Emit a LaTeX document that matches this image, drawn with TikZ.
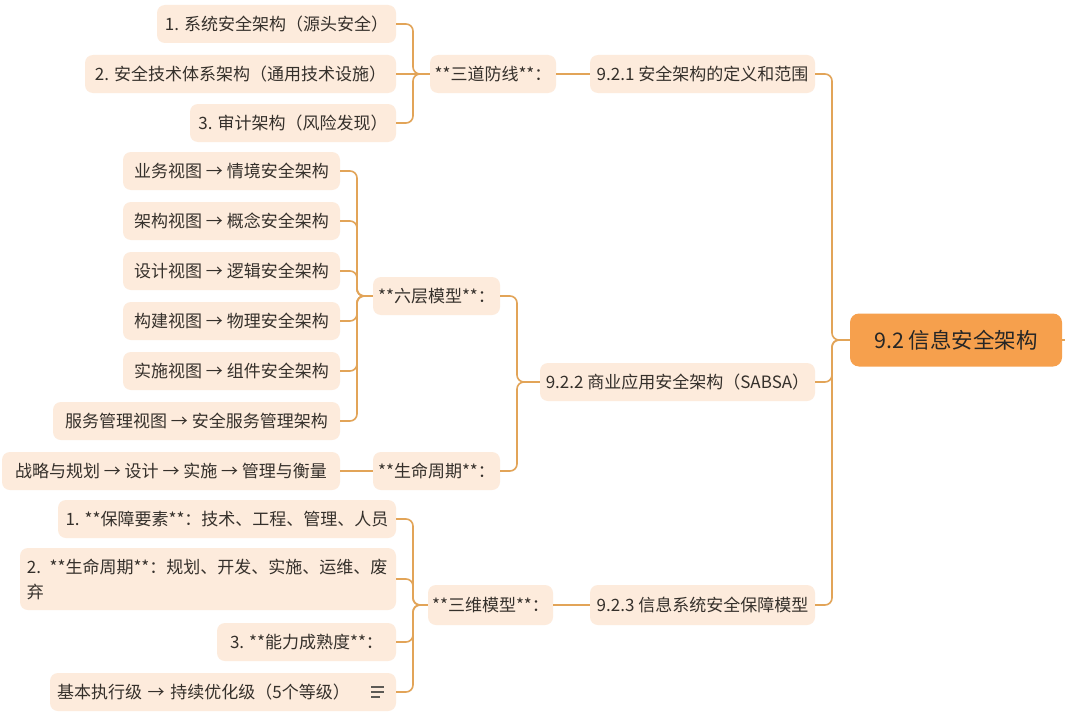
\documentclass[tikz,border=0pt]{standalone}
\usepackage{fontspec}
\setmainfont{Noto Sans CJK SC}
\definecolor{boxfill}{HTML}{FDEBDC}
\definecolor{rootfill}{HTML}{F6A04D}
\definecolor{linec}{HTML}{E2A458}
\definecolor{txt}{HTML}{35302B}
\tikzset{
  box/.style={fill=boxfill, rounded corners=8pt, minimum height=38pt, inner sep=0pt, text=txt, font=\fontsize{17}{21}\selectfont},
  rootbox/.style={fill=rootfill, rounded corners=9pt, minimum height=53pt, minimum width=212pt, inner sep=0pt, text=black!85, font=\fontsize{21.5}{25}\selectfont},
  conn/.style={draw=linec, line width=1.6pt, rounded corners=7pt},
}
\begin{document}
\begin{tikzpicture}[x=1pt,y=-1pt]
\useasboundingbox[fill=white] (0,0) rectangle (1065,717);

% root
\node[rootbox] (root) at (956,340) {9.2 信息安全架构};
\coordinate (stub) at (1065,340);

% level 1
\node[box, minimum width=225pt] (n1) at (702.5,74) {9.2.1 安全架构的定义和范围};
\node[box, minimum width=275pt] (n2) at (677.5,382) {9.2.2 商业应用安全架构（SABSA）};
\node[box, minimum width=225pt, minimum height=40pt] (n3) at (702.5,605) {9.2.3 信息系统安全保障模型};

% level 2
\node[box, minimum width=126pt] (a) at (493,74) {**三道防线**：};
\node[box, minimum width=127pt] (b) at (436.5,296) {**六层模型**：};
\node[box, minimum width=127pt] (c) at (436.5,471) {**生命周期**：};
\node[box, minimum width=125pt, minimum height=40pt] (d) at (490.5,605) {**三维模型**：};

% level 3 : 三道防线
\node[box, minimum width=239pt] (a1) at (276.5,24) {1. 系统安全架构（源头安全）};
\node[box, minimum width=311pt] (a2) at (240.5,74) {2. 安全技术体系架构（通用技术设施）};
\node[box, minimum width=206pt] (a3) at (293,123) {3. 审计架构（风险发现）};

% level 3 : 六层模型
\node[box, minimum width=217pt] (b1) at (231.5,171) {业务视图 → 情境安全架构};
\node[box, minimum width=217pt] (b2) at (231.5,221) {架构视图 → 概念安全架构};
\node[box, minimum width=217pt] (b3) at (231.5,271) {设计视图 → 逻辑安全架构};
\node[box, minimum width=217pt] (b4) at (231.5,321) {构建视图 → 物理安全架构};
\node[box, minimum width=217pt] (b5) at (231.5,371) {实施视图 → 组件安全架构};
\node[box, minimum width=287pt] (b6) at (196.5,421) {服务管理视图 → 安全服务管理架构};

% level 3 : 生命周期
\node[box, minimum width=338pt] (c1) at (171,471) {战略与规划 → 设计 → 实施 → 管理与衡量};

% level 3 : 三维模型
\node[box, minimum width=338pt] (d1) at (227,519) {1. **保障要素**：技术、工程、管理、人员};
\node[box, minimum width=376pt, minimum height=62pt, text width=362pt, align=left, font=\fontsize{17}{25}\selectfont] (d2) at (208,579) {2. **生命周期**：规划、开发、实施、运维、废\\弃};
\node[box, minimum width=179pt] (d3) at (306.5,642) {3. **能力成熟度**：};
\node[box, minimum width=346pt, text width=332pt, align=left] (d4) at (223,692) {基本执行级 → 持续优化级（5个等级）};
\draw[txt!80, line width=1.1pt] (371,687) -- (384,687) (371,692) -- (384,692) (371,697) -- (380,697);

% connectors
\draw[conn] (root.east) -- (stub);
\draw[conn] (root.west) -- (832,340) |- (n1.east);
\draw[conn] (root.west) -- (832,340) |- (n2.east);
\draw[conn] (root.west) -- (832,340) |- (n3.east);

\draw[conn] (n1.west) -- (a.east);
\draw[conn] (a.west) -- (413,74) |- (a1.east);
\draw[conn] (a.west) -- (a2.east);
\draw[conn] (a.west) -- (413,74) |- (a3.east);

\draw[conn] (n2.west) -- (517,382) |- (b.east);
\draw[conn] (n2.west) -- (517,382) |- (c.east);
\foreach \k in {b1,b2,b3,b4,b5,b6}
  \draw[conn] (b.west) -- (357,296) |- (\k.east);
\draw[conn] (c.west) -- (c1.east);

\draw[conn] (n3.west) -- (d.east);
\foreach \k in {d1,d2,d3,d4}
  \draw[conn] (d.west) -- (413,605) |- (\k.east);
\end{tikzpicture}
\end{document}
